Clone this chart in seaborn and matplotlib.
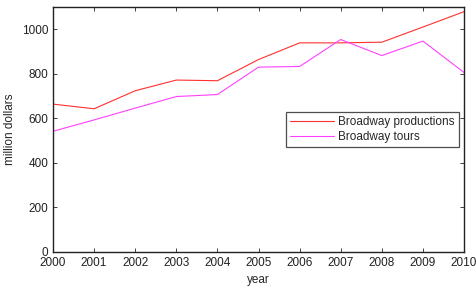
import matplotlib
matplotlib.use("Agg")
import matplotlib.pyplot as plt
import pandas as pd
import seaborn as sns

years = [2000, 2001, 2002, 2003, 2004, 2005, 2006, 2007, 2008, 2009, 2010]
productions = [664, 643, 724, 772, 769, 864, 939, 939, 942, 1010, 1079]
tours = [542, 593, 646, 698, 707, 830, 833, 954, 882, 947, 806]

df = pd.DataFrame({
    "year": years * 2,
    "value": productions + tours,
    "series": ["Broadway productions"] * len(years) + ["Broadway tours"] * len(years),
})

sns.set_style("ticks")
plt.rcParams["font.family"] = ["Liberation Sans", "DejaVu Sans"]

fig = plt.figure(figsize=(4.76, 2.93), dpi=100)
ax = fig.add_axes([53 / 476, 1 - 252 / 293, (464 - 53) / 476, (252 - 7) / 293])

sns.lineplot(
    data=df, x="year", y="value", hue="series",
    palette={"Broadway productions": "#ff3030", "Broadway tours": "#ff40ff"},
    linewidth=0.8, ax=ax,
)

ax.set_xlim(2000, 2010)
ax.set_ylim(0, 1100)
ax.set_xticks(years)
ax.set_yticks([0, 200, 400, 600, 800, 1000])
ax.tick_params(direction="in", top=True, right=True, labelsize=8.5, length=3, width=0.6, colors="#222222")
ax.set_xlabel("year", fontsize=8.5)
ax.set_ylabel("million dollars", fontsize=8.5)
for s in ax.spines.values():
    s.set_linewidth(1.0)
    s.set_color("#222222")

leg = ax.legend(
    loc="center right", bbox_to_anchor=(0.988, 0.5), borderaxespad=0, fontsize=8.5, frameon=True,
    fancybox=False, edgecolor="#222222", handlelength=3.7, borderpad=0.35,
    labelspacing=0.2, handletextpad=0.4,
)
leg.get_frame().set_linewidth(0.9)

fig.savefig("out.png", dpi=100)
